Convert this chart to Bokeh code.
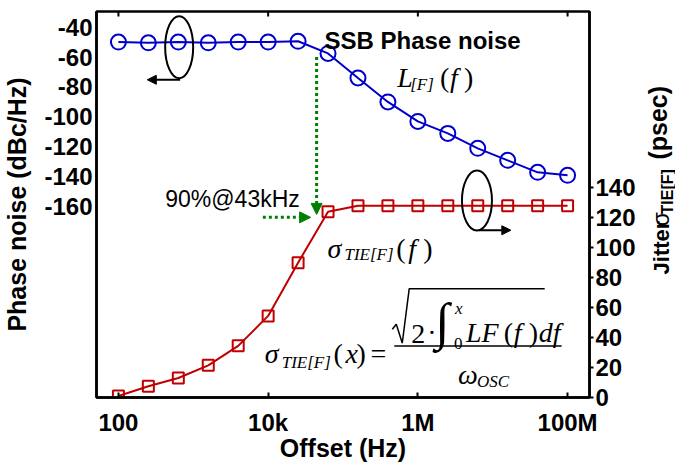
import math
from bokeh.plotting import figure
from bokeh.layouts import row
from bokeh.models import (Range1d, LinearAxis, FixedTicker, Label, Arrow,
                          NormalHead)
from bokeh.embed import file_html
from bokeh.resources import INLINE

# ---------------- data ----------------
offset_hz = [100, 251, 631, 1585, 3981, 10000, 25119, 63096, 158489, 398107,
             1000000, 2511886, 6309573, 15848932, 39810717, 100000000]
phase_noise_dbc = [-50, -50.5, -50, -50.5, -50, -50, -49.5, -57.6, -74, -90,
                   -103, -111, -121, -129, -137, -139]
jitter_psec = [1, 7.5, 13, 21.5, 34.5, 54.5, 90, 124, 128, 128, 128, 128,
               128, 128, 128, 128]
x_ticks = [100, 10000, 1000000, 100000000]
x_tick_labels = ["100", "10k", "1M", "100M"]
pn_ticks = [-40, -60, -80, -100, -120, -140, -160]
jit_ticks = [0, 20, 40, 60, 80, 100, 120, 140]

# ---------------- geometry ----------------
W, H = 675, 464
PW = 638                                   # width of the main figure
FL, FR, FT, FB = 96, 591, 11, 401          # frame edges (canvas px)
XLO, XHI = 1.707, 8.293                    # log10 x range
YLO, YHI = -287.4, -29.6                   # phase-noise range
JLO, JHI = 0.0, 257.8                      # jitter range

def fx(px):
    return 10 ** (XLO + (px - FL) / (FR - FL) * (XHI - XLO))

def fy(py):
    return YLO + (FB - py) / (FB - FT) * (YHI - YLO)

SANS = "Liberation Sans"
SERIF = "Liberation Serif"
BLUE = "#0000CC"
RED = "#C00000"
GREEN = "#008000"

p = figure(width=PW, height=H, x_axis_type="log",
           x_range=Range1d(10 ** XLO, 10 ** XHI), y_range=Range1d(YLO, YHI),
           output_backend="svg", toolbar_location=None,
           min_border_left=FL, min_border_right=PW - FR,
           min_border_top=FT, min_border_bottom=H - FB)
p.extra_y_ranges = {"jit": Range1d(JLO, JHI)}
p.xgrid.visible = False
p.ygrid.visible = False
p.outline_line_color = "black"
p.outline_line_width = 2.5
p.outline_line_alpha = 1
p.background_fill_color = "white"
p.border_fill_color = "white"

# bottom x axis
xa = p.xaxis[0]
xa.ticker = FixedTicker(ticks=x_ticks)
xa.major_label_overrides = {t: l for t, l in zip(x_ticks, x_tick_labels)}
xa.major_tick_in = 5
xa.major_tick_out = 0
xa.minor_tick_in = 0
xa.minor_tick_out = 0
xa.axis_line_width = 2.5
xa.major_tick_line_width = 2
xa.major_label_text_font = SANS
xa.major_label_text_font_style = "bold"
xa.major_label_text_font_size = "24px"
xa.major_label_text_color = "black"
xa.major_label_standoff = 11
xa.axis_label = "Offset (Hz)"
xa.axis_label_text_font = SANS
xa.axis_label_text_font_style = "bold"
xa.axis_label_text_font_size = "25px"
xa.axis_label_text_color = "black"
xa.axis_label_standoff = -5

# left y axis
ya = p.yaxis[0]
ya.ticker = FixedTicker(ticks=pn_ticks)
ya.major_label_overrides = {t: str(t) for t in pn_ticks}
ya.major_tick_in = 0
ya.major_tick_out = 0
ya.minor_tick_in = 0
ya.minor_tick_out = 0
ya.axis_line_width = 2.5
ya.major_label_text_font = SANS
ya.major_label_text_font_style = "bold"
ya.major_label_text_font_size = "24px"
ya.major_label_text_color = "black"
ya.major_label_standoff = 4
ya.axis_label = "Phase noise (dBc/Hz)"
ya.axis_label_text_font = SANS
ya.axis_label_text_font_style = "bold"
ya.axis_label_text_font_size = "25px"
ya.axis_label_text_color = "black"
ya.axis_label_standoff = 10

# right y axis (jitter)
ra = LinearAxis(y_range_name="jit", ticker=FixedTicker(ticks=jit_ticks),
                major_tick_in=0, major_tick_out=4, minor_tick_in=0,
                minor_tick_out=0, axis_line_width=2.5, major_tick_line_width=2,
                major_label_text_font=SANS, major_label_text_font_style="bold",
                major_label_text_font_size="24px",
                major_label_text_color="black", major_label_standoff=2)
p.add_layout(ra, "right")

# top inward ticks
p.segment(x0=x_ticks, y0=[YHI] * 4, x1=x_ticks, y1=[fy(FT + 5)] * 4,
          line_color="black", line_width=2)

# ---------------- data series ----------------
p.line(offset_hz, phase_noise_dbc, line_color=BLUE, line_width=2)
p.scatter(offset_hz, phase_noise_dbc, marker="circle", size=15,
          fill_color=None, line_color=BLUE, line_width=2)
p.line(offset_hz, jitter_psec, line_color=RED, line_width=2,
       y_range_name="jit")
p.scatter(offset_hz, jitter_psec, marker="square", size=11, fill_color=None,
          line_color=RED, line_width=2, y_range_name="jit")

# ---------------- annotations ----------------
def lab(px, py, text, size, font=SERIF, style="italic"):
    p.add_layout(Label(x=fx(px), y=fy(py), text=text, text_font=font,
                       text_font_size=f"{size}px", text_font_style=style,
                       text_color="black", text_baseline="alphabetic",
                       text_align="left"))

# ellipses and black arrows
p.ellipse(x=[fx(179), fx(478)], y=[fy(47), fy(202)], width=[28, 30],
          height=[62, 60], width_units="screen", height_units="screen",
          fill_color=None, line_color="black", line_width=2)
for (x0, y0, x1, y1) in [(180, 80, 147, 80), (480, 232, 512, 232)]:
    p.add_layout(Arrow(end=NormalHead(size=9, fill_color="black",
                                      line_color="black", line_width=1),
                       x_start=fx(x0), y_start=fy(y0), x_end=fx(x1),
                       y_end=fy(y1), line_color="black", line_width=2))

# green dotted arrows (90% @ 43 kHz)
for (x0, y0, x1, y1) in [(317, 57, 317, 216), (263, 219, 311, 219)]:
    p.add_layout(Arrow(end=NormalHead(size=11, fill_color=GREEN,
                                      line_color=GREEN, line_width=1),
                       x_start=fx(x0), y_start=fy(y0), x_end=fx(x1),
                       y_end=fy(y1), line_color=GREEN, line_width=3,
                       line_dash="3 3"))

lab(325, 40, "SSB Phase noise", 24, font=SANS, style="bold")
lab(165, 200, "90%@43kHz", 23, font=SANS, style="normal")

# L_[F](f)
lab(398, 78, "L", 28)
lab(411, 85, "[F]", 17)
lab(441, 78, "(", 28, style="normal")
lab(451, 78, "f", 28)
lab(465, 78, ")", 28, style="normal")

# sigma_TIE[F](f)
lab(328, 250, "σ", 28)
lab(345, 257, "TIE[F]", 17)
lab(397, 250, "(", 28, style="normal")
lab(409, 250, "f", 28)
lab(424, 250, ")", 28, style="normal")

# formula
lab(265, 357, "σ", 28)
lab(282, 366, "TIE[F]", 17)
lab(334, 357, "(", 28, style="normal")
lab(346, 357, "x", 28)
lab(357, 357, ")", 28, style="normal")
lab(371, 357, "=", 28, style="normal")
lab(412, 337, "2", 28, style="normal")
lab(428, 335, "·", 28, style="normal")
lab(436, 324, "∫", 52, style="normal")
lab(456, 311, "x", 17)
lab(455, 346, "0", 17, style="normal")
lab(467, 335, "LF", 28)
lab(505, 335, "(", 28, style="normal")
lab(515, 335, "f", 28)
lab(530, 335, ")", 28, style="normal")
lab(540, 335, "df", 28)
lab(459, 378, "ω", 28)
lab(478, 385, "OSC", 17)

rad_x = [393, 397, 403, 410, 546]
rad_y = [332, 327, 346, 291, 291]
p.line([fx(v) for v in rad_x], [fy(v) for v in rad_y], line_color="black",
       line_width=1.5)
p.line([fx(395), fx(563)], [fy(349), fy(349)], line_color="black",
       line_width=1.5)

# ---------------- right axis title strip ----------------
q = figure(width=W - PW, height=H, x_range=Range1d(PW, W),
           y_range=Range1d(0, H), x_axis_location=None, y_axis_location=None,
           output_backend="svg", toolbar_location=None, min_border=0,
           outline_line_color=None)
q.grid.visible = False
q.background_fill_color = "white"
q.border_fill_color = "white"

def vlab(px_base, py, text, size, style="bold"):
    # rotated text, anchored at the top-left of its (unrotated) box:
    # px_base = canvas x of the baseline, py = canvas y where the text starts
    q.add_layout(Label(x=px_base - 0.905 * size, y=H - py, text=text,
                       text_font=SANS, text_font_size=f"{size}px",
                       text_font_style=style, text_color="black",
                       text_baseline="top", text_align="left",
                       angle=math.pi / 2))

vlab(668, 316, "Jitter", 22)
vlab(668, 258, "σ", 23, style="normal")
vlab(673, 244, "TIE[F]", 16)
vlab(666, 178, "(psec)", 25)

layout = row(p, q, spacing=0)
open("out.html", "w").write(file_html(layout, INLINE))
